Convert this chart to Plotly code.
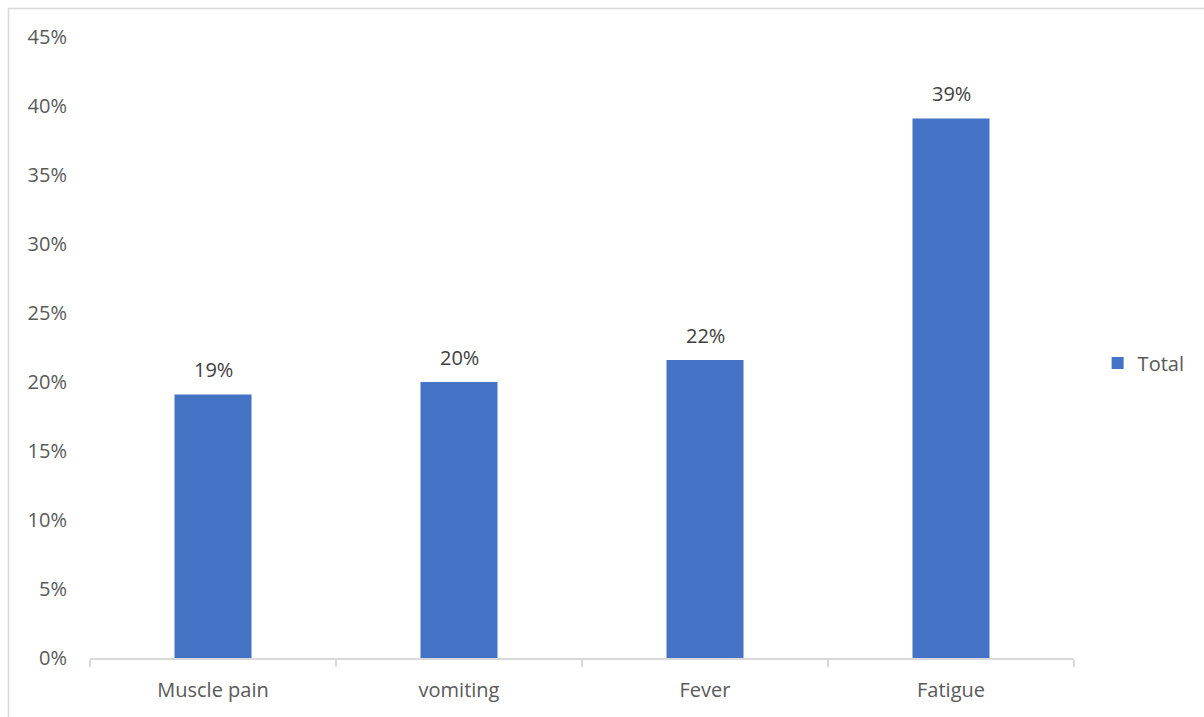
import plotly.graph_objects as go

# Symptom shares
categories = ["Muscle pain", "vomiting", "Fever", "Fatigue"]
totals = [0.191, 0.200, 0.216, 0.391]
series_name = "Total"
y_ticks = [0, 0.05, 0.10, 0.15, 0.20, 0.25, 0.30, 0.35, 0.40, 0.45]

BAR_COLOR = "#4472C4"
TEXT_COLOR = "#595959"
LABEL_COLOR = "#404040"
FONT = "Open Sans, Noto Sans, sans-serif"
FS = 20

fig = go.Figure()
fig.add_trace(go.Bar(
    x=categories,
    y=totals,
    name=series_name,
    marker=dict(color=BAR_COLOR, line=dict(width=0)),
    showlegend=True,
))

# Value labels above each bar
for cat, val in zip(categories, totals):
    fig.add_annotation(
        x=cat, y=val, text=f"{val:.0%}", showarrow=False,
        yanchor="bottom", yshift=9,
        font=dict(family=FONT, size=FS, color=LABEL_COLOR),
    )

fig.update_layout(
    width=1204, height=717,
    margin=dict(l=90, r=130, t=37, b=59),
    paper_bgcolor="white", plot_bgcolor="white",
    bargap=0.687,
    font=dict(family=FONT, size=FS, color=TEXT_COLOR),
    legend=dict(
        x=1.024, y=0.475, xanchor="left", yanchor="middle",
        font=dict(family=FONT, size=FS, color=TEXT_COLOR),
        itemwidth=30, bgcolor="rgba(0,0,0,0)",
    ),
    shapes=[dict(
        type="rect", xref="paper", yref="paper",
        x0=-0.0828, x1=1.2, y0=-0.2, y1=1.046,
        line=dict(color="#d9d9d9", width=1.5),
    )],
)

fig.update_xaxes(
    showline=True, linecolor="#d9d9d9", linewidth=1.5,
    ticks="outside", tickson="boundaries", ticklen=7, tickcolor="#d9d9d9", tickwidth=1.5,
    ticklabelstandoff=13,
    showgrid=False, zeroline=False,
    tickfont=dict(family=FONT, size=FS, color=TEXT_COLOR),
)
fig.update_yaxes(
    range=[0, 0.45], tickvals=y_ticks, tickformat=".0%",
    showgrid=False, zeroline=False, showline=False, ticks="",
    ticklabelstandoff=22,
    tickfont=dict(family=FONT, size=FS, color=TEXT_COLOR),
)

fig.write_html("out.html")
